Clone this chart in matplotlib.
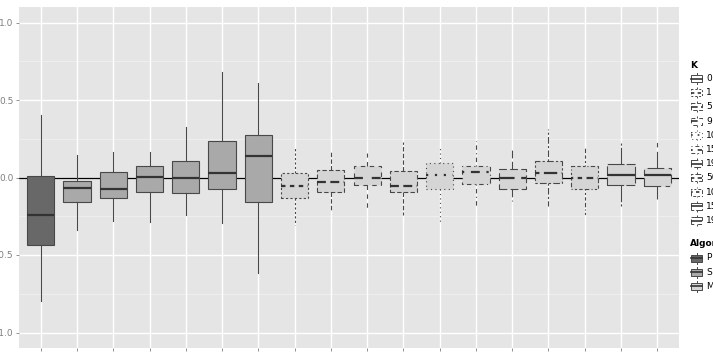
import matplotlib
matplotlib.use("Agg")
import matplotlib.pyplot as plt
from matplotlib.patches import Rectangle
from matplotlib.lines import Line2D

# box statistics (one entry per box, left to right)
algo = ["P"] + ["S"] * 6 + ["M"] * 11
k_of_box = ["0"] * 7 + ["1", "5", "9", "5", "10", "15", "19", "50", "100", "150", "199"]
whislo = [-0.797, -0.341, -0.283, -0.287, -0.244, -0.294, -0.613, -0.304, -0.219,
          -0.195, -0.240, -0.287, -0.195, -0.152, -0.186, -0.251, -0.186, -0.141]
q1 = [-0.437, -0.161, -0.131, -0.092, -0.103, -0.075, -0.156, -0.135, -0.092,
      -0.051, -0.096, -0.077, -0.045, -0.073, -0.037, -0.073, -0.049, -0.058]
med = [-0.240, -0.066, -0.073, 0.002, -0.006, 0.030, 0.137, -0.058, -0.026,
       0.000, -0.058, 0.013, 0.034, -0.004, 0.026, -0.004, 0.017, 0.019]
q3 = [0.008, -0.021, 0.036, 0.071, 0.107, 0.238, 0.276, 0.026, 0.049,
      0.071, 0.039, 0.094, 0.073, 0.056, 0.105, 0.075, 0.088, 0.062]
whishi = [0.403, 0.148, 0.167, 0.163, 0.328, 0.682, 0.611, 0.195, 0.174,
          0.159, 0.227, 0.195, 0.238, 0.184, 0.313, 0.206, 0.221, 0.227]

k_levels = ["0", "1", "5", "9", "10", "15", "19", "50", "100", "150", "199"]
algo_levels = ["P", "S", "M"]
yticks = [-1.0, -0.5, 0.0, 0.5, 1.0]

# ggplot-like linetypes (units of line width)
linetypes = {
    "0": "solid",
    "1": (0, (2, 2)),
    "5": (0, (4, 2)),
    "9": (0, (4, 4)),
    "10": (0, (1, 3)),
    "15": (0, (1, 3, 4, 3)),
    "19": (0, (7, 3)),
    "50": (0, (2, 2, 6, 2)),
    "100": (0, (1, 2, 2, 2, 3, 2, 4, 2)),
    "150": (0, (15, 2, 8, 2)),
    "199": (0, (15, 4, 4, 4, 8, 4, 4, 4)),
}
fills = {"P": "#686868", "S": "#a9a9a9", "M": "#d5d5d5"}
edge = "#484848"

W, H = 713, 352
fig = plt.figure(figsize=(W / 100, H / 100), dpi=100)
fig.patch.set_facecolor("white")

# panel in pixel coords
left, right, top, bottom = 19, 679, 7, 348
ax = fig.add_axes([left / W, (H - bottom) / H, (right - left) / W, (bottom - top) / H])
ax.set_facecolor("#e5e5e5")
for s in ax.spines.values():
    s.set_visible(False)

n = len(med)
pos = list(range(1, n + 1))
ax.set_xlim(0.4, n + 0.6)
ax.set_ylim(-1.1, 1.1)

# grid
for y in [-0.75, -0.25, 0.25, 0.75]:
    ax.axhline(y, color="#f2f2f2", lw=0.5, zorder=0.5)
for y in yticks:
    ax.axhline(y, color="white", lw=1.0, zorder=0.6)
for x in pos:
    ax.axvline(x, color="white", lw=1.0, zorder=0.6)

ax.axhline(0, color="black", lw=0.9, zorder=1)

stats = []
for i in range(n):
    stats.append(dict(med=med[i], q1=q1[i], q3=q3[i], whislo=whislo[i],
                      whishi=whishi[i], fliers=[]))

bp = ax.bxp(stats, positions=pos, widths=0.75, patch_artist=True, showcaps=False,
            showfliers=False, manage_ticks=False, zorder=2)

for i in range(n):
    ls = linetypes[k_of_box[i]]
    box = bp["boxes"][i]
    box.set_facecolor(fills[algo[i]])
    box.set_edgecolor(edge)
    box.set_linewidth(0.8)
    box.set_linestyle(ls)
    for w in bp["whiskers"][2 * i:2 * i + 2]:
        w.set_color(edge)
        w.set_linewidth(0.8)
        w.set_linestyle(ls)
    m = bp["medians"][i]
    m.set_color("#333333")
    m.set_linewidth(1.6)
    m.set_linestyle(ls)

ax.set_xticks(pos)
ax.set_xticklabels([""] * n)
ax.set_yticks(yticks)
ax.set_yticklabels(["%.1f" % v for v in yticks])
ax.tick_params(axis="both", colors="#7f7f7f", length=2.5, width=0.6, labelsize=6.5,
               pad=1.5, labelcolor="#7f7f7f")

# legend drawn in pixel coords
lg = fig.add_axes([0, 0, 1, 1], zorder=5)
lg.set_xlim(0, W)
lg.set_ylim(H, 0)
lg.axis("off")
lg.patch.set_alpha(0)


def key(yc, ls, fill):
    x0, x1 = 690.5, 702.5
    xm = (x0 + x1) / 2
    h = 13
    ytop, ybot = yc - h / 2, yc + h / 2
    lg.add_line(Line2D([xm, xm], [ytop + 1, yc - 3.5], color=edge, lw=0.7, linestyle=ls))
    lg.add_line(Line2D([xm, xm], [yc + 3.5, ybot - 1], color=edge, lw=0.7, linestyle=ls))
    lg.add_patch(Rectangle((x0 + 0.5, yc - 3.5), x1 - x0 - 1, 7, facecolor=fill,
                           edgecolor=edge, lw=0.7, linestyle=ls))
    lg.add_line(Line2D([x0 + 0.5, x1 - 0.5], [yc, yc], color="#333333", lw=1.2, linestyle=ls))


lg.text(690, 65, "K", fontsize=6.5, fontweight="bold", va="center", ha="left")
for j, k in enumerate(k_levels):
    yc = 78.5 + 14.2 * j
    key(yc, linetypes[k], "white")
    lg.text(706, yc, k, fontsize=6.5, va="center", ha="left")

lg.text(690, 244, "Algorithm", fontsize=6.5, fontweight="bold", va="center", ha="left")
for j, a in enumerate(algo_levels):
    yc = 258 + 14.2 * j
    key(yc, "solid", fills[a])
    lg.text(706, yc, a, fontsize=6.5, va="center", ha="left")

fig.savefig("out.png", dpi=100)
